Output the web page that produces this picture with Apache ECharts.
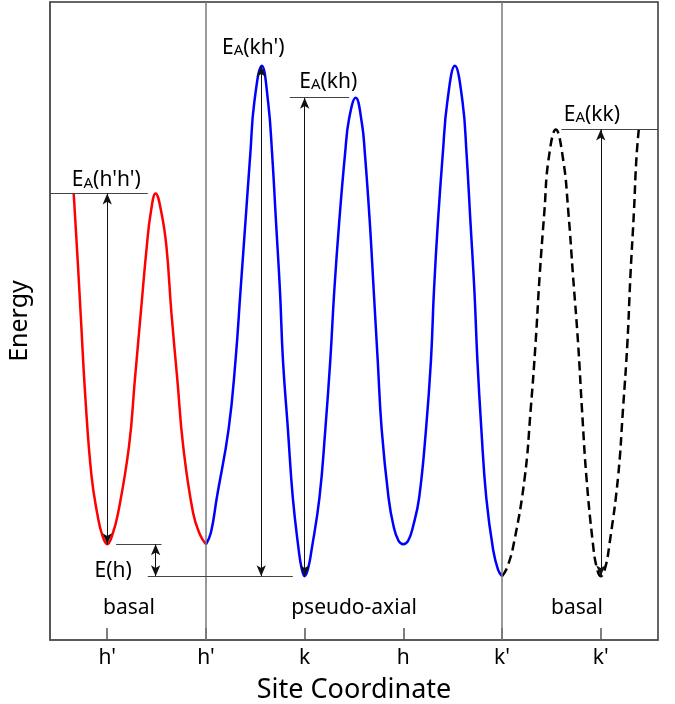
<!DOCTYPE html>
<html>
<head>
<meta charset="utf-8">
<script src="https://cdn.jsdelivr.net/npm/echarts@6/dist/echarts.min.js"></script>
<style>
  html, body { margin: 0; padding: 0; background: #fff; }
  #chart { width: 675px; height: 704px; }
</style>
</head>
<body>
<div id="chart"></div>
<script>
// site axis
const siteTicks = [0, 1, 2, 3, 4, 5]
const siteLabels = ["h'", "h'", 'k', 'h', "k'", "k'"]
const separators = [1, 4]

// energy curves [site coordinate, energy]
const redBasal = [
  [-0.34, 70], [-0.30, 59.6], [-0.27, 51.3], [-0.22, 37.6], [-0.16, 25.8], [-0.10, 19.7],
  [-0.05, 16.4], [0, 15], [0.05, 16.4], [0.11, 19.9], [0.22, 30.3], [0.28, 40.8],
  [0.34, 51.3], [0.40, 61.6], [0.44, 66.9], [0.49, 70], [0.55, 66.9], [0.60, 61.6],
  [0.65, 51.3], [0.71, 40.8], [0.77, 30.3], [0.87, 19.9], [0.94, 16.5], [1.0, 15]
]
const bluePseudoAxial = [
  [1.0, 15], [1.05, 16.8], [1.11, 22.3], [1.23, 33.1], [1.30, 43.9], [1.35, 54.7],
  [1.40, 65.5], [1.45, 76.3], [1.49, 84.3], [1.566, 90], [1.63, 84.3], [1.67, 76.3],
  [1.71, 65.5], [1.75, 54.7], [1.78, 43.9], [1.83, 33.1], [1.88, 22.3], [1.94, 14.1],
  [1.97, 11.2], [2.0, 10], [2.035, 11.2], [2.07, 14.1], [2.15, 22.3], [2.21, 33.1],
  [2.26, 43.9], [2.30, 54.7], [2.35, 65.5], [2.41, 76.3], [2.45, 81.7], [2.517, 85],
  [2.58, 81.0], [2.61, 76.3], [2.66, 65.5], [2.70, 54.7], [2.74, 43.9], [2.78, 33.1],
  [2.85, 22.3], [2.90, 17.9], [2.95, 15.6], [3.0, 15], [3.05, 15.6], [3.10, 17.9],
  [3.16, 22.3], [3.23, 33.1], [3.28, 43.9], [3.31, 54.7], [3.35, 65.5], [3.40, 76.3],
  [3.445, 84.3], [3.522, 90], [3.60, 84.3], [3.64, 76.3], [3.68, 65.5], [3.72, 54.7],
  [3.75, 43.9], [3.79, 33.1], [3.84, 22.3], [3.91, 14.1], [3.96, 11.0], [4.0, 10]
]
const blackBasal = [
  [4.0, 10], [4.05, 11.3], [4.12, 15.2], [4.23, 25.5], [4.29, 36.1], [4.34, 46.6],
  [4.38, 56.9], [4.43, 67.4], [4.47, 75.2], [4.545, 80], [4.62, 75.2], [4.67, 67.4],
  [4.72, 56.9], [4.77, 46.6], [4.81, 36.1], [4.855, 25.5], [4.92, 15.2], [4.96, 11.3],
  [5.0, 10], [5.045, 11.3], [5.09, 15.2], [5.175, 25.5], [5.225, 36.1], [5.27, 46.6],
  [5.30, 56.9], [5.337, 67.4], [5.36, 75.2], [5.385, 80]
]

// reference levels [x from, x to, energy]
const levelLines = [
  [-0.58, 0.41, 70],
  [0.09, 0.55, 15],
  [0.41, 1.88, 10],
  [1.85, 2.45, 85],
  [4.60, 5.58, 80]
]
// double arrows [x, energy from, energy to]
const arrows = [
  [0, 15, 70],
  [0.49, 10, 15],
  [1.56, 10, 90],
  [2.0, 10, 85],
  [5.0, 10, 80]
]
// text [x, energy, text]
const notes = [
  [-0.01, 72.6, "{e|E}{s|A}{e|(h'h')}"],
  [1.48, 93.4, "{e|E}{s|A}{e|(kh')}"],
  [2.24, 88.0, '{e|E}{s|A}{e|(kh)}'],
  [4.91, 82.9, '{e|E}{s|A}{e|(kk)}'],
  [0.06, 11.4, '{e|E(h)}'],
  [0.22, 5.6, '{e|basal}'],
  [2.5, 5.6, '{e|pseudo-axial}'],
  [4.76, 5.6, '{e|basal}']
]

const font = 'Noto Sans'
const chart = echarts.init(document.getElementById('chart'))

const option = {
  animation: false,
  backgroundColor: '#fff',
  grid: {
    left: 50, right: 17, top: 2, bottom: 64,
    outerBoundsMode: 'none',
    show: true, borderColor: '#333', borderWidth: 1.5
  },
  xAxis: {
    type: 'value',
    min: -0.58,
    max: 5.58,
    name: 'Site Coordinate',
    nameLocation: 'middle',
    nameGap: 37,
    nameTextStyle: { fontFamily: font, fontSize: 27, color: '#000' },
    splitLine: { show: false },
    axisLine: { show: true, onZero: false, lineStyle: { color: '#555', width: 1.5 } },
    axisTick: {
      show: true, inside: true, length: 12,
      customValues: siteTicks,
      lineStyle: { color: '#555', width: 1.5 }
    },
    axisLabel: {
      customValues: siteTicks,
      margin: 8,
      fontFamily: font, fontSize: 21, color: '#000',
      formatter: function(v) {
        return siteLabels[siteTicks.indexOf(Math.round(v))]
      }
    }
  },
  yAxis: {
    type: 'value',
    min: 0,
    max: 100,
    name: 'Energy',
    nameLocation: 'middle',
    nameGap: 18,
    nameRotate: 90,
    nameTextStyle: { fontFamily: font, fontSize: 25, color: '#000' },
    splitLine: { show: false },
    axisLine: { show: true, onZero: false, lineStyle: { color: '#555', width: 1.5 } },
    axisTick: { show: false },
    axisLabel: { show: false }
  },
  series: [
    {
      name: 'red',
      type: 'line',
      data: redBasal,
      smooth: 0.45,
      showSymbol: false,
      lineStyle: { color: '#ff0000', width: 2.5 },
      z: 3
    },
    {
      name: 'blue',
      type: 'line',
      data: bluePseudoAxial,
      smooth: 0.45,
      showSymbol: false,
      lineStyle: { color: '#0000ff', width: 2.5 },
      z: 3
    },
    {
      name: 'black',
      type: 'line',
      data: blackBasal,
      smooth: 0.45,
      showSymbol: false,
      lineStyle: { color: '#000', width: 2.5, type: [9, 5] },
      z: 3
    },
    {
      name: 'notes',
      type: 'scatter',
      symbolSize: 0,
      itemStyle: { color: '#000', opacity: 1 },
      data: notes.map(function(n) { return { value: [n[0], n[1]], text: n[2] } }),
      label: {
        show: true,
        position: [0, 0],
        align: 'center',
        verticalAlign: 'middle',
        color: '#000',
        opacity: 1,
        textBorderWidth: 0,
        formatter: function(p) { return p.data.text },
        rich: {
          e: { fontFamily: font, fontSize: 21, color: '#000', verticalAlign: 'bottom', lineHeight: 28 },
          s: { fontFamily: font, fontSize: 15, color: '#000', verticalAlign: 'bottom', lineHeight: 8 }
        }
      },
      markLine: {
        silent: true,
        symbol: 'none',
        label: { show: false },
        data: [].concat(
          separators.map(function(x) {
            return [
              { coord: [x, 0], lineStyle: { color: '#777', width: 1.5, type: 'solid' } },
              { coord: [x, 100] }
            ]
          }),
          levelLines.map(function(l) {
            return [
              { coord: [l[0], l[2]], lineStyle: { color: '#444', width: 1.2, type: 'solid' } },
              { coord: [l[1], l[2]] }
            ]
          }),
          arrows.map(function(a) {
            return [
              { coord: [a[0], a[1]], symbol: 'arrow', symbolSize: [7, 11],
                lineStyle: { color: '#111', width: 1, type: 'solid', opacity: 1 } },
              { coord: [a[0], a[2]], symbol: 'arrow', symbolSize: [7, 11] }
            ]
          })
        )
      }
    }
  ]
}

chart.setOption(option)
</script>
</body>
</html>
